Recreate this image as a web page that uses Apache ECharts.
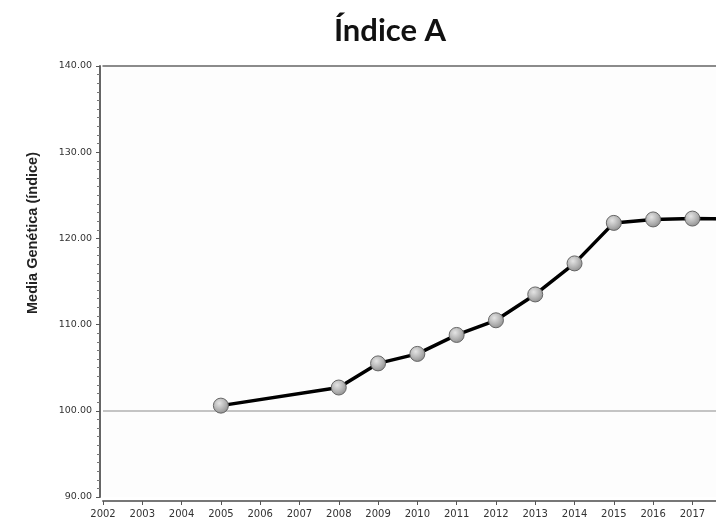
<!DOCTYPE html>
<html>
<head>
<meta charset="utf-8">
<script src="https://cdn.jsdelivr.net/npm/echarts@6/dist/echarts.min.js"></script>
<style>
  html, body { margin: 0; padding: 0; background: #fff; overflow: hidden; }
  /* the plot runs past the right edge of the window, as in the original */
  #chart { width: 771px; height: 522px; }
</style>
</head>
<body>
<div id="chart"></div>
<script>
// años y valores de la media genética
const years = [2005, 2008, 2009, 2010, 2011, 2012, 2013, 2014, 2015, 2016, 2017, 2018];
const values = [100.6, 102.7, 105.5, 106.6, 108.8, 110.5, 113.5, 117.1, 121.8, 122.2, 122.3, 122.25];
const yTicks = [90, 100, 110, 120, 130, 140];
const baseLine = 100;

const myChart = echarts.init(document.getElementById("chart"));

const option = {
  backgroundColor: "#ffffff",
  animation: false,
  title: {
    text: "Índice A",
    left: 385,
    top: 10,
    textAlign: "center",
    textStyle: {
      fontFamily: "Lato",
      fontWeight: "bold",
      fontSize: 31,
      color: "#111",
    },
  },
  graphic: [
    {
      type: "text",
      x: 33,
      y: 233,
      rotation: Math.PI / 2,
      style: {
        text: "Media Genética (índice)",
        fontFamily: "Liberation Sans",
        fontWeight: "bold",
        fontSize: 14.5,
        fill: "#222",
        align: "center",
        verticalAlign: "middle",
      },
    },
  ],
  grid: {
    left: 103,
    top: 66,
    bottom: 25,
    right: 0,
    outerBoundsMode: "none",
    show: true,
    backgroundColor: "#fdfdfd",
    borderWidth: 0,
  },
  xAxis: [
    {
      type: "value",
      min: 2002,
      max: 2019,
      interval: 1,
      offset: 4,
      axisLine: { show: true, lineStyle: { color: "#777", width: 2 } },
      axisTick: { show: true, length: 4, lineStyle: { color: "#555" } },
      splitLine: { show: false },
      axisLabel: {
        color: "#333",
        fontFamily: "DejaVu Sans",
        fontSize: 10,
        margin: 8,
        formatter: (v) => String(v),
      },
    },
    {
      // borde superior del marco
      type: "value",
      position: "top",
      min: 2002,
      max: 2019,
      axisLine: { show: true, lineStyle: { color: "#666", width: 1.5 } },
      axisTick: { show: false },
      axisLabel: { show: false },
      splitLine: { show: false },
    },
  ],
  yAxis: {
    type: "value",
    min: yTicks[0],
    max: yTicks[yTicks.length - 1],
    interval: 10,
    offset: 3,
    axisLine: { show: true, lineStyle: { color: "#666", width: 2 } },
    axisTick: { show: true, length: 4, lineStyle: { color: "#555" } },
    minorTick: { show: true, splitNumber: 10, length: 3, lineStyle: { color: "#777" } },
    splitLine: { show: false },
    axisLabel: {
      color: "#333",
      fontFamily: "DejaVu Sans",
      fontSize: 9.5,
      margin: 8,
      formatter: (v) => v.toFixed(2),
    },
  },
  series: [
    {
      type: "line",
      data: years.map((y, i) => [y, values[i]]),
      symbol: "circle",
      symbolSize: 15,
      lineStyle: { color: "#000", width: 3.5 },
      itemStyle: {
        color: new echarts.graphic.RadialGradient(0.4, 0.35, 0.7, [
          { offset: 0, color: "#e4e4e4" },
          { offset: 0.6, color: "#b0b0b0" },
          { offset: 1, color: "#8a8a8a" },
        ]),
        borderColor: "#666",
        borderWidth: 1,
      },
      z: 3,
      markLine: {
        silent: true,
        symbol: "none",
        label: { show: false },
        lineStyle: { color: "#b0b0b0", type: "solid", width: 1.5 },
        data: [{ yAxis: baseLine }],
        z: 1,
      },
    },
  ],
};

myChart.setOption(option);
</script>
</body>
</html>
